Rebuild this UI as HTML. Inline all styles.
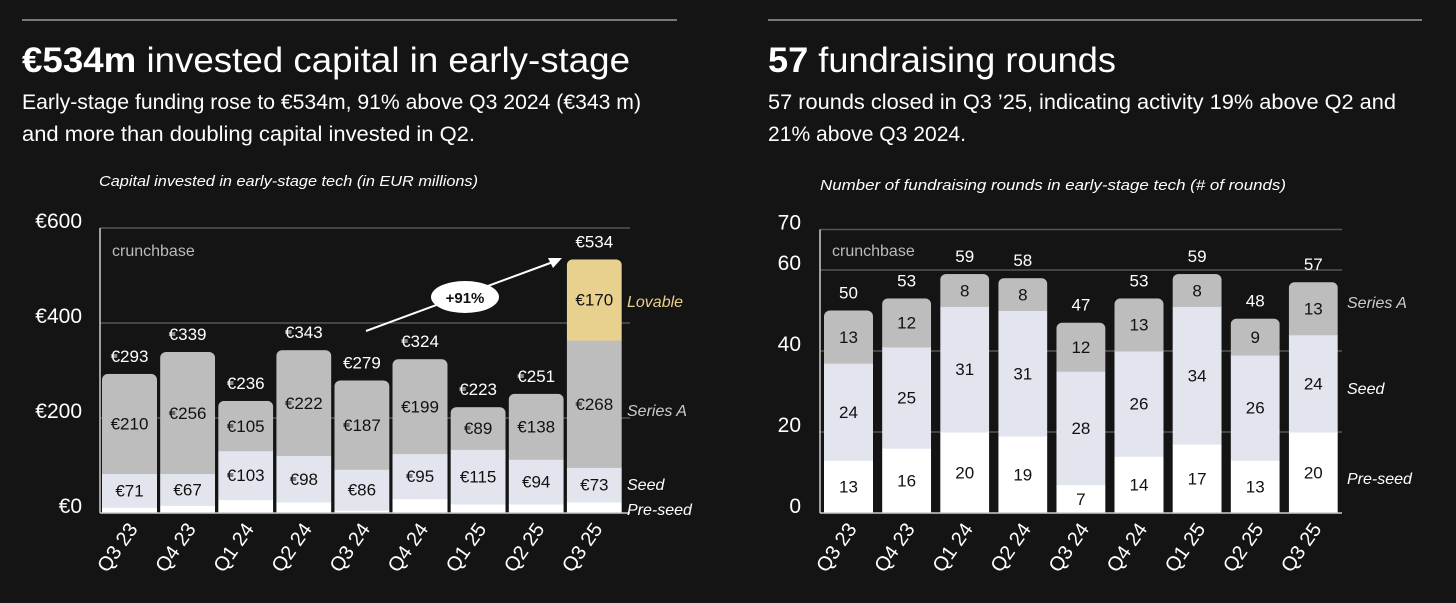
<!DOCTYPE html>
<html><head><meta charset="utf-8"><style>
body{margin:0;background:#141414;width:1456px;height:603px;overflow:hidden;font-family:"Liberation Sans",sans-serif;color:#fff}
svg{position:absolute;left:0;top:0}
</style></head><body>
<svg width="1456" height="603">
<line x1="22" y1="20" x2="677" y2="20" stroke="#ddd" stroke-width="1"/>
<line x1="768" y1="20" x2="1422" y2="20" stroke="#ddd" stroke-width="1"/>
<text x="22" y="72" font-size="35" textLength="608" lengthAdjust="spacingAndGlyphs" fill="#fff"><tspan font-weight="bold">€534m</tspan> invested capital in early-stage</text>
<text x="22" y="109" font-size="21" textLength="619" lengthAdjust="spacingAndGlyphs" fill="#fff">Early-stage funding rose to €534m, 91% above Q3 2024 (€343 m)</text>
<text x="22" y="141" font-size="21" textLength="453" lengthAdjust="spacingAndGlyphs" fill="#fff">and more than doubling capital invested in Q2.</text>
<text x="768" y="72" font-size="35" textLength="348" lengthAdjust="spacingAndGlyphs" fill="#fff"><tspan font-weight="bold">57</tspan> fundraising rounds</text>
<text x="768" y="109" font-size="21" textLength="628" lengthAdjust="spacingAndGlyphs" fill="#fff">57 rounds closed in Q3 ’25, indicating activity 19% above Q2 and</text>
<text x="768" y="141" font-size="21" textLength="198" lengthAdjust="spacingAndGlyphs" fill="#fff">21% above Q3 2024.</text>
<text x="99" y="186" font-size="15" font-style="italic" textLength="379" lengthAdjust="spacingAndGlyphs" fill="#fff">Capital invested in early-stage tech (in EUR millions)</text>
<text x="820" y="190" font-size="15" font-style="italic" textLength="466" lengthAdjust="spacingAndGlyphs" fill="#fff">Number of fundraising rounds in early-stage tech (# of rounds)</text>
<g id="left"></g>
<g id="right"></g>
</svg>
<script>
const quarters=["Q3 23","Q4 23","Q1 24","Q2 24","Q3 24","Q4 24","Q1 25","Q2 25","Q3 25"];
const capTotal=[293,339,236,343,279,324,223,251,534];
const capPreseed=[12,16,28,23,6,30,19,19,23];
const capSeed=[71,67,103,98,86,95,115,94,73];
const capSeriesA=[210,256,105,222,187,199,89,138,268];
const capLovable=[0,0,0,0,0,0,0,0,170];
const capTicks=[0,200,400,600];
const rndTotal=[50,53,59,58,47,53,59,48,57];
const rndPreseed=[13,16,20,19,7,14,17,13,20];
const rndSeed=[24,25,31,31,28,26,34,26,24];
const rndSeriesA=[13,12,8,8,12,13,8,9,13];
const rndTicks=[0,20,40,60,70];
const NS="http://www.w3.org/2000/svg";
function mk(p,tag,a,txt){const e=document.createElementNS(NS,tag);for(const k in a)e.setAttribute(k,a[k]);if(txt!==undefined)e.textContent=txt;p.appendChild(e);return e;}
function chart(g,cfg){
  const y=v=>cfg.y0-v*cfg.k;
  const x=i=>cfg.x0+i*cfg.step;
  cfg.ticks.forEach(t=>{
    if(t>0){const l=mk(g,'line',{x1:cfg.ax,x2:cfg.gx2,y1:y(t),y2:y(t),stroke:'#555','stroke-width':1.5});
    
    }
    const tx=mk(g,'text',{x:cfg.lx,y:y(t)+cfg.ldy,'font-size':21,fill:'#fff','text-anchor':'end'},cfg.fmt(t));
    
    
  });
  const ax=mk(g,'line',{x1:cfg.ax,x2:cfg.ax,y1:y(cfg.ticks[cfg.ticks.length-1]),y2:cfg.y0,stroke:'#ccc','stroke-width':1.5});
  
  
  const cb=mk(g,'text',{x:cfg.ax+12,y:cfg.cby,'font-size':16,fill:'#bbb'},'crunchbase');
  
  
  quarters.forEach((q,i)=>{
    const bx=x(i),w=cfg.bw;
    const cp=mk(g,'clipPath',{id:cfg.id+'c'+i});
    mk(cp,'rect',{x:bx,y:y(cfg.total[i]),width:w,height:cfg.total[i]*cfg.k+10,rx:6});
    const bg=mk(g,'g',{'clip-path':'url(#'+cfg.id+'c'+i+')'});
    
    
    let base=0;
    cfg.series.forEach(s=>{
      const v=s.vals[i]; if(!v)return;
      const r=mk(bg,'rect',{x:bx,y:y(base+v),width:w,height:v*cfg.k+0.5,fill:s.color});
      
      
      if(s.label){const t=mk(g,'text',{x:bx+w/2,y:y(base+v/2)+6,'font-size':17,fill:'#111','text-anchor':'middle'},cfg.fmt(v));
      
      }
      base+=v;
    });
    const tl=mk(g,'text',{x:bx+w/2,y:y(cfg.total[i])-12,'font-size':17,fill:'#fff','text-anchor':'middle'},cfg.fmt(cfg.total[i]));
    
    
    const xl=mk(g,'text',{transform:`translate(${bx+w/2+9},${cfg.y0+16}) rotate(-55)`,'font-size':20,fill:'#fff','text-anchor':'end'},q);
    
    
  });
  const base=mk(g,'line',{x1:cfg.ax,x2:cfg.gx2,y1:cfg.y0,y2:cfg.y0,stroke:'#ccc','stroke-width':1.5});
  
  
  cfg.legend.forEach(l=>{
    const t=mk(g,'text',{x:cfg.legx,y:l.y,'font-size':16,'font-style':'italic',fill:l.c},l.t);
    
    
  });
}
const L=document.getElementById('left'),R=document.getElementById('right');
chart(L,{id:'L',y0:513,k:0.475,x0:102,step:58.1,bw:55,ax:100,gx2:630,lx:82,ldy:0,cby:256,ticks:capTicks,total:capTotal,fmt:v=>'€'+v,
  series:[{name:'preseed',vals:capPreseed,color:'#ffffff'},{name:'seed',vals:capSeed,color:'#e2e5ee',label:1},{name:'series-a',vals:capSeriesA,color:'#bdbdbd',label:1},{name:'lovable',vals:capLovable,color:'#e8d08f',label:1}],
  legx:627,legend:[{t:'Lovable',y:307,c:'#e8d08f'},{t:'Series A',y:416,c:'#ccc'},{t:'Seed',y:490,c:'#fff'},{t:'Pre-seed',y:515,c:'#fff'}]});
chart(R,{id:'R',y0:513,k:4.05,x0:824,step:58.1,bw:49,ax:820,gx2:1342,lx:801,ldy:0,cby:256,ticks:rndTicks,total:rndTotal,fmt:v=>''+v,
  series:[{name:'preseed',vals:rndPreseed,color:'#ffffff',label:1},{name:'seed',vals:rndSeed,color:'#e2e5ee',label:1},{name:'series-a',vals:rndSeriesA,color:'#bdbdbd',label:1}],
  legx:1347,legend:[{t:'Series A',y:308,c:'#ccc'},{t:'Seed',y:394,c:'#fff'},{t:'Pre-seed',y:484,c:'#fff'}]});
const a=mk(L,'line',{x1:366,y1:331,x2:553,y2:262,stroke:'#fff','stroke-width':2});


const ah=mk(L,'polygon',{points:'562,258 548,258 553,268',fill:'#fff'});


const e=mk(L,'ellipse',{cx:465,cy:297,rx:34,ry:16,fill:'#fff'});


const et=mk(L,'text',{x:465,y:303,'font-size':15,'font-weight':'bold',fill:'#111','text-anchor':'middle'},'+91%');


</script>
</body></html>
